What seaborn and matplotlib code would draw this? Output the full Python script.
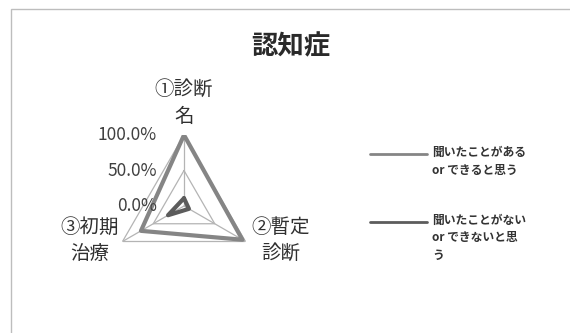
import numpy as np
import pandas as pd
import matplotlib
matplotlib.use("Agg")
import matplotlib.pyplot as plt
from matplotlib.lines import Line2D
from matplotlib.patches import Rectangle
from matplotlib.transforms import offset_copy
import seaborn as sns

# ---- data ----
categories = ["①診断\n名", "②暫定\n診断", "③初期\n治療"]
series_names = ["聞いたことがある\nor できると思う", "聞いたことがない\nor できないと思\nう"]
heard_or_can = [100.0, 95.0, 70.0]      # %
not_heard_or_cannot = [11.0, 8.0, 26.0]  # %
radial_ticks = [0.0, 50.0, 100.0]
radial_tick_labels = ["0.0%", "50.0%", "100.0%"]
title = "認知症"

sns.set_theme(style="white")
plt.rcParams["font.family"] = ["Noto Sans CJK JP", "DejaVu Sans"]

W, H = 570, 333
fig = plt.figure(figsize=(W / 100, H / 100), dpi=100)


def fx(px):
    return px / W


def fy(py):
    return 1 - py / H


# chart-area frame
fig.add_artist(Rectangle((fx(11), fy(345)), fx(575) - fx(11), fy(9) - fy(345),
                         transform=fig.transFigure, fill=False,
                         edgecolor="#bdbdbd", linewidth=1.0))

# radar axes: centre (184, 206) px, radius 71 px
cx, cy, R = 184, 206, 71
ax = fig.add_axes([fx(cx - R), fy(cy + R), 2 * R / W, 2 * R / H], projection="polar")
ax.set_theta_offset(np.pi / 2)
ax.set_theta_direction(-1)
ax.set_ylim(0, 1)
ax.grid(False)
ax.spines["polar"].set_visible(False)
ax.set_xticks([])
ax.set_yticks([])
ax.patch.set_alpha(0)

n = len(categories)
theta = np.arange(n) * 2 * np.pi / n
theta_closed = np.append(theta, 2 * np.pi)

# triangular grid and spokes
grid_c = "#b4b4b4"
for t in radial_ticks[1:]:
    ax.plot(theta_closed, [t / 100] * (n + 1), color=grid_c, lw=0.9, zorder=1)
for t in theta:
    ax.plot([t, t], [0, 1], color=grid_c, lw=0.9, zorder=1)

# series
rows = []
for name, vals in zip(series_names, [heard_or_can, not_heard_or_cannot]):
    closed = list(vals) + [vals[0]]
    for th, v in zip(theta_closed, closed):
        rows.append({"series": name, "theta": th, "value": v / 100})
df = pd.DataFrame(rows)
palette = {series_names[0]: "#858585", series_names[1]: "#5c5c5c"}
sns.lineplot(data=df, x="theta", y="value", hue="series", sort=False,
             estimator=None, palette=palette, linewidth=3.0, legend=False,
             ax=ax, zorder=3)
ax.set_xlabel("")
ax.set_ylabel("")
ax.set_ylim(0, 1)

# radial tick labels, left of the vertical spoke
tick_tr = offset_copy(ax.transData, fig=fig, x=-27, y=0, units="dots")
for t, lab in zip(radial_ticks, radial_tick_labels):
    ax.text(0, t / 100, lab, transform=tick_tr, ha="right", va="center",
            fontsize=12.5, color="#404040", clip_on=False)

# category labels
label_offsets = [(0, 32), (35, 1), (-33, 1)]
for th, lab, (dx, dy) in zip(theta, categories, label_offsets):
    tr = offset_copy(ax.transData, fig=fig, x=dx, y=dy, units="dots")
    ax.text(th, 1.0, lab, transform=tr, ha="center", va="center",
            fontsize=14, color="#303030", linespacing=1.35, clip_on=False)

# title
fig.text(fx(291), fy(47), title, ha="center", va="center", fontsize=19,
         fontweight="bold", color="#2a2a2a")

# legend
leg_rows = [154, 222]
for y, name, c in zip(leg_rows, series_names, [palette[s] for s in series_names]):
    fig.add_artist(Line2D([fx(370), fx(427)], [fy(y), fy(y)], color=c, lw=2.0,
                          transform=fig.transFigure))
    fig.text(fx(432), fy(y - 8), name, ha="left", va="top", fontsize=8.5,
             fontweight="bold", color="#333333", linespacing=1.45)

fig.savefig("out.png", dpi=100)
